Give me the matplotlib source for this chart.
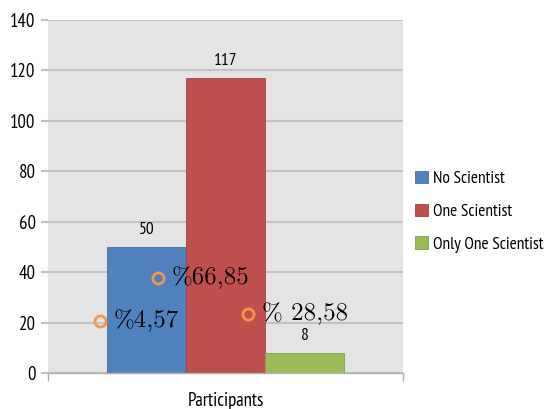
import matplotlib.pyplot as plt
import numpy as np

# bar data
series = ['No Scientist', 'One Scientist', 'Only One Scientist']
counts = [50, 117, 8]
colors = ['#4f81bd', '#c0504d', '#9bbb59']
edges = ['#41719c', '#a5403d', '#86a34a']
category = 'Participants'

# percentage callouts (x, y in data units)
pct_text = ['%4,57', '%66,85', '% 28,58']
pct_x = [-1.59, -0.855, 0.285]
pct_y = [20.6, 37.6, 23.4]

sans = ['PT Sans Narrow', 'Carlito', 'DejaVu Sans']
serif = ['Latin Modern Roman', 'cmr10', 'DejaVu Serif']

fig = plt.figure(figsize=(5.46, 4.09), dpi=100)
ax = fig.add_axes([48 / 546, 1 - 373 / 409, 355 / 546, 353.5 / 409])
ax.set_facecolor('#e4e4e4')

xs = np.arange(len(counts)) - 1
for x, c, col, ec, name in zip(xs, counts, colors, edges, series):
    ax.bar(x, c, width=1.0, color=col, edgecolor=ec, linewidth=0.6,
           label=name, zorder=2)
    ax.annotate(str(c), (x, c), xytext=(0, 6), textcoords='offset points',
                ha='center', va='bottom', fontsize=12.5, family=sans)

ax.set_xlim(-2.247, 2.247)
ax.set_ylim(0, 140)
ax.set_yticks(np.arange(0, 141, 20))
ax.yaxis.grid(True, color='#c2c2c2', linewidth=1.5, zorder=0)
ax.set_axisbelow(True)

ax.set_xticks([-2.247, 2.247])
ax.set_xticklabels(['', ''])
ax.tick_params(axis='x', length=6, color='#b0b0b0', width=1)
ax.tick_params(axis='y', length=5, color='#c2c2c2', width=1.5, pad=4)
for lab in ax.get_yticklabels():
    lab.set_family(sans)
    lab.set_fontsize(13.5)

ax.text(0, -0.078, category, transform=ax.get_xaxis_transform(),
        ha='center', va='center', fontsize=13.5, family=sans)

for s in ['top', 'right', 'left']:
    ax.spines[s].set_visible(False)
ax.spines['bottom'].set_color('#b0b0b0')
ax.spines['bottom'].set_linewidth(1)

for t, x, y in zip(pct_text, pct_x, pct_y):
    ax.plot(x, y, 'o', ms=8, mfc='none', mec='#f79646', mew=2, zorder=4)
    ax.annotate(t, (x, y), xytext=(10, 0), textcoords='offset points',
                ha='left', va='center', fontsize=18, family=serif, zorder=5)

ax.legend(loc='center left', bbox_to_anchor=(1.035, 0.456), frameon=False,
          prop={'family': sans, 'size': 12.5}, handlelength=0.7,
          handleheight=0.7, handletextpad=0.3, labelspacing=0.95,
          borderpad=0, borderaxespad=0)

fig.savefig('out.png', dpi=100)
